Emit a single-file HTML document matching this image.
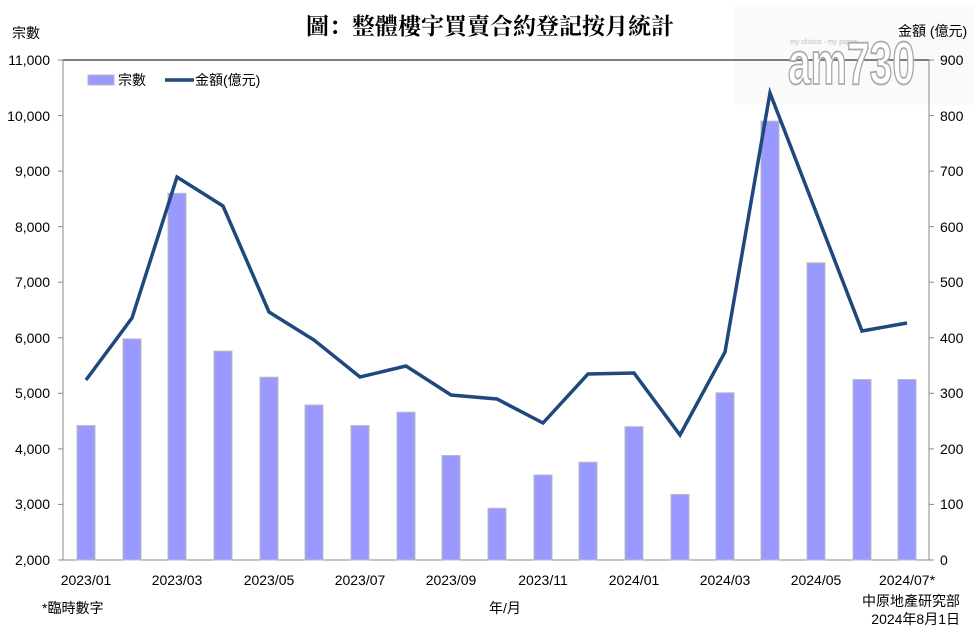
<!DOCTYPE html>
<html><head><meta charset="utf-8"><style>
body{margin:0;background:#fff}
svg{display:block}
text{font-family:"Liberation Sans Narrow","Liberation Sans","Noto Sans CJK TC",sans-serif;font-size:14px;fill:#000}
.c{font-family:"Liberation Sans","Noto Sans CJK TC",sans-serif}
</style></head><body>
<svg width="980" height="637" viewBox="0 0 980 637" xmlns="http://www.w3.org/2000/svg">
<rect x="735" y="5" width="240" height="100" fill="#fafafa"/>
<text x="490" y="34" text-anchor="middle" class="c" style="font-size:23px;font-weight:bold;font-family:'Noto Serif CJK SC','Noto Sans CJK TC',serif">圖：整體樓宇買賣合約登記按月統計</text>
<text x="12" y="38" class="c" style="font-size:14px">宗數</text>
<text x="898" y="36" class="c" style="font-size:14px">金額 (億元)</text>
<line x1="63" y1="60" x2="929" y2="60" stroke="#000" stroke-width="1"/>
<line x1="63" y1="60" x2="63" y2="560" stroke="#888"/>
<line x1="929" y1="60" x2="929" y2="560" stroke="#888"/>
<line x1="58" y1="560" x2="934" y2="560" stroke="#888"/>
<g stroke="#888">
<line x1="58" y1="60" x2="63" y2="60"/><line x1="58" y1="115.6" x2="63" y2="115.6"/><line x1="58" y1="171.1" x2="63" y2="171.1"/><line x1="58" y1="226.7" x2="63" y2="226.7"/><line x1="58" y1="282.2" x2="63" y2="282.2"/><line x1="58" y1="337.8" x2="63" y2="337.8"/><line x1="58" y1="393.3" x2="63" y2="393.3"/><line x1="58" y1="448.9" x2="63" y2="448.9"/><line x1="58" y1="504.4" x2="63" y2="504.4"/>
<line x1="929" y1="60" x2="934" y2="60"/><line x1="929" y1="115.6" x2="934" y2="115.6"/><line x1="929" y1="171.1" x2="934" y2="171.1"/><line x1="929" y1="226.7" x2="934" y2="226.7"/><line x1="929" y1="282.2" x2="934" y2="282.2"/><line x1="929" y1="337.8" x2="934" y2="337.8"/><line x1="929" y1="393.3" x2="934" y2="393.3"/><line x1="929" y1="448.9" x2="934" y2="448.9"/><line x1="929" y1="504.4" x2="934" y2="504.4"/>
</g>
<g text-anchor="end">
<text x="50" y="65">11,000</text><text x="50" y="121">10,000</text><text x="50" y="176">9,000</text><text x="50" y="232">8,000</text><text x="50" y="287">7,000</text><text x="50" y="343">6,000</text><text x="50" y="398">5,000</text><text x="50" y="454">4,000</text><text x="50" y="509">3,000</text><text x="50" y="565">2,000</text>
</g>
<g>
<text x="940" y="65">900</text><text x="940" y="121">800</text><text x="940" y="176">700</text><text x="940" y="232">600</text><text x="940" y="287">500</text><text x="940" y="343">400</text><text x="940" y="398">300</text><text x="940" y="454">200</text><text x="940" y="509">100</text><text x="940" y="565">0</text>
</g>
<g fill="#9999ff" stroke="#bbb" stroke-width="1">
<rect x="77" y="425.5" width="18" height="134.5"/>
<rect x="123" y="338.9" width="18" height="221.1"/>
<rect x="168" y="193.3" width="18" height="366.7"/>
<rect x="214" y="351.1" width="18" height="208.9"/>
<rect x="260" y="377.2" width="18" height="182.8"/>
<rect x="305" y="405" width="18" height="155"/>
<rect x="351" y="425.5" width="18" height="134.5"/>
<rect x="397" y="412.2" width="18" height="147.8"/>
<rect x="442" y="455.5" width="18" height="104.5"/>
<rect x="488" y="508.3" width="18" height="51.7"/>
<rect x="534" y="475" width="18" height="85"/>
<rect x="579" y="462.2" width="18" height="97.8"/>
<rect x="625" y="426.7" width="18" height="133.3"/>
<rect x="671" y="494.4" width="18" height="65.6"/>
<rect x="716" y="392.8" width="18" height="167.2"/>
<rect x="761" y="121.1" width="18" height="438.9"/>
<rect x="807" y="262.8" width="18" height="297.2"/>
<rect x="853" y="379.5" width="18" height="180.5"/>
<rect x="898" y="379.5" width="18" height="180.5"/>
</g>
<polyline fill="none" stroke="#1f497d" stroke-width="3.5" stroke-linejoin="miter" points="86,380 132,318 177,177 223,206 269,312 314,340 360,377 406,366 451,395 497,399 543,423 588,374 634,373 680,435 725,352 770,93 816,212 862,331 907,323"/>
<rect x="88" y="75" width="26" height="10" fill="#9999ff" stroke="#bbb"/>
<text x="118" y="85" class="c">宗數</text>
<line x1="165" y1="80" x2="194" y2="80" stroke="#1f497d" stroke-width="3.5"/>
<text x="195" y="85" class="c">金額(億元)</text>
<g text-anchor="middle">
<text x="86" y="585">2023/01</text><text x="177" y="585">2023/03</text><text x="269" y="585">2023/05</text><text x="360" y="585">2023/07</text><text x="451" y="585">2023/09</text><text x="543" y="585">2023/11</text><text x="634" y="585">2024/01</text><text x="725" y="585">2024/03</text><text x="816" y="585">2024/05</text><text x="907" y="585">2024/07*</text>
<text x="505" y="613" class="c">年/月</text>
</g>
<text x="42" y="613" class="c">*臨時數字</text>
<text x="960" y="606" text-anchor="end" class="c">中原地產研究部</text>
<text x="960" y="624" text-anchor="end" class="c">2024年8月1日</text>
<text x="790" y="44" class="c" style="font-size:7px;fill:#fff;stroke:#bbb;stroke-width:0.3">my choice · my paper</text>
<text x="0" y="0" transform="translate(788,84) scale(0.85,1.25)" class="c" style="font-size:48px;font-weight:bold;fill:#fff;stroke:#aaa;stroke-width:1.5">am730</text>
</svg>
</body></html>
